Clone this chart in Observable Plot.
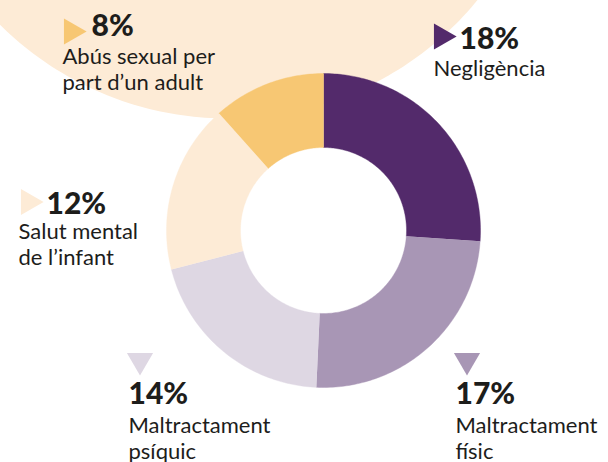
<!DOCTYPE html>
<html>
<head>
<meta charset="utf-8">
<script src="https://cdn.jsdelivr.net/npm/d3@7"></script>
<script src="https://cdn.jsdelivr.net/npm/@observablehq/plot@0.6"></script>
<style>
  html, body { margin: 0; padding: 0; background: #fff; }
  svg { display: block; }
</style>
</head>
<body>
<div id="chart"></div>
<script>
// ---- data ----
const categories = ["Negligència", "Maltractament físic", "Maltractament psíquic", "Salut mental de l’infant", "Abús sexual per part d’un adult"];
const values = [18, 17, 14, 12, 8];
const percentLabels = ["18%", "17%", "14%", "12%", "8%"];
const labelLines = [
  ["Negligència"],
  ["Maltractament", "físic"],
  ["Maltractament", "psíquic"],
  ["Salut mental", "de l’infant"],
  ["Abús sexual per", "part d’un adult"]
];
const colors = ["#532a6b", "#a896b5", "#ded7e3", "#fdebd6", "#f7c773"];

// ---- layout ----
const W = 608, H = 462;
const donut = {cx: 323, cy: 230, r0: 83, r1: 157};
const bgCircle = {cx: 227, cy: -205, r: 323, color: "#fdebd6"};
const labelPos = [
  {tx: 441, ty: 36, rot: 90, x: 433, pctX: 459, pctY: 48, lineY: 75},
  {tx: 466.5, ty: 360, rot: 180, x: 455, pctX: 455, pctY: 403, lineY: 432},
  {tx: 139.5, ty: 360, rot: 180, x: 128, pctX: 128, pctY: 403, lineY: 432},
  {tx: 28, ty: 201.5, rot: 90, x: 18, pctX: 46, pctY: 213, lineY: 238},
  {tx: 71, ty: 31, rot: 90, x: 62, pctX: 91, pctY: 35, lineY: 63}
];
const lineGap = 26;

// ---- geometry from data ----
const pie = d3.pie().sort(null).value(d => d)(values);
function arcPoints(a0, a1, r0, r1, cx, cy, key) {
  const n = Math.max(8, Math.ceil((a1 - a0) / (Math.PI / 180)));
  const pts = [];
  for (let i = 0; i <= n; i++) {
    const a = a0 + (a1 - a0) * i / n;
    pts.push({x: cx + r1 * Math.sin(a), y: cy - r1 * Math.cos(a), key});
  }
  for (let i = n; i >= 0; i--) {
    const a = a0 + (a1 - a0) * i / n;
    pts.push({x: cx + r0 * Math.sin(a), y: cy - r0 * Math.cos(a), key});
  }
  return pts;
}
const slicePts = pie.flatMap((p, i) => arcPoints(p.startAngle, p.endAngle, donut.r0, donut.r1, donut.cx, donut.cy, i));
const bgPts = d3.range(0, 361).map(d => {
  const a = d * Math.PI / 180;
  return {x: bgCircle.cx + bgCircle.r * Math.sin(a), y: bgCircle.cy - bgCircle.r * Math.cos(a)};
});

const tri = categories.map((c, i) => ({...labelPos[i], color: colors[i]}));
const pcts = categories.map((c, i) => ({x: labelPos[i].pctX, y: labelPos[i].pctY, text: percentLabels[i]}));
const lines = categories.flatMap((c, i) => labelLines[i].map((t, j) => ({x: labelPos[i].x, y: labelPos[i].lineY + j * lineGap, text: t})));

const fontFamily = "Lato, 'Open Sans', sans-serif";

const chart = Plot.plot({
  width: W,
  height: H,
  margin: 0,
  x: {domain: [0, W], range: [0, W], axis: null},
  y: {domain: [0, H], range: [0, H], axis: null},
  marks: [
    Plot.line(bgPts, {x: "x", y: "y", fill: bgCircle.color, stroke: "none"}),
    Plot.line(slicePts, {x: "x", y: "y", z: "key", fill: d => colors[d.key], stroke: d => colors[d.key], strokeWidth: 0.4}),
    Plot.dot(tri, {x: "tx", y: "ty", symbol: "triangle2", r: 12.5, fill: "color", stroke: "none", rotate: "rot"}),
    Plot.text(pcts, {x: "x", y: "y", text: "text", textAnchor: "start", lineAnchor: "bottom", fontSize: 30, fontWeight: 900, fontFamily, fill: "#1d1d1b"}),
    Plot.text(lines, {x: "x", y: "y", text: "text", textAnchor: "start", lineAnchor: "bottom", fontSize: 22, fontWeight: 400, fontFamily, fill: "#1d1d1b"})
  ]
});
document.getElementById("chart").appendChild(chart);
</script>
</body>
</html>
